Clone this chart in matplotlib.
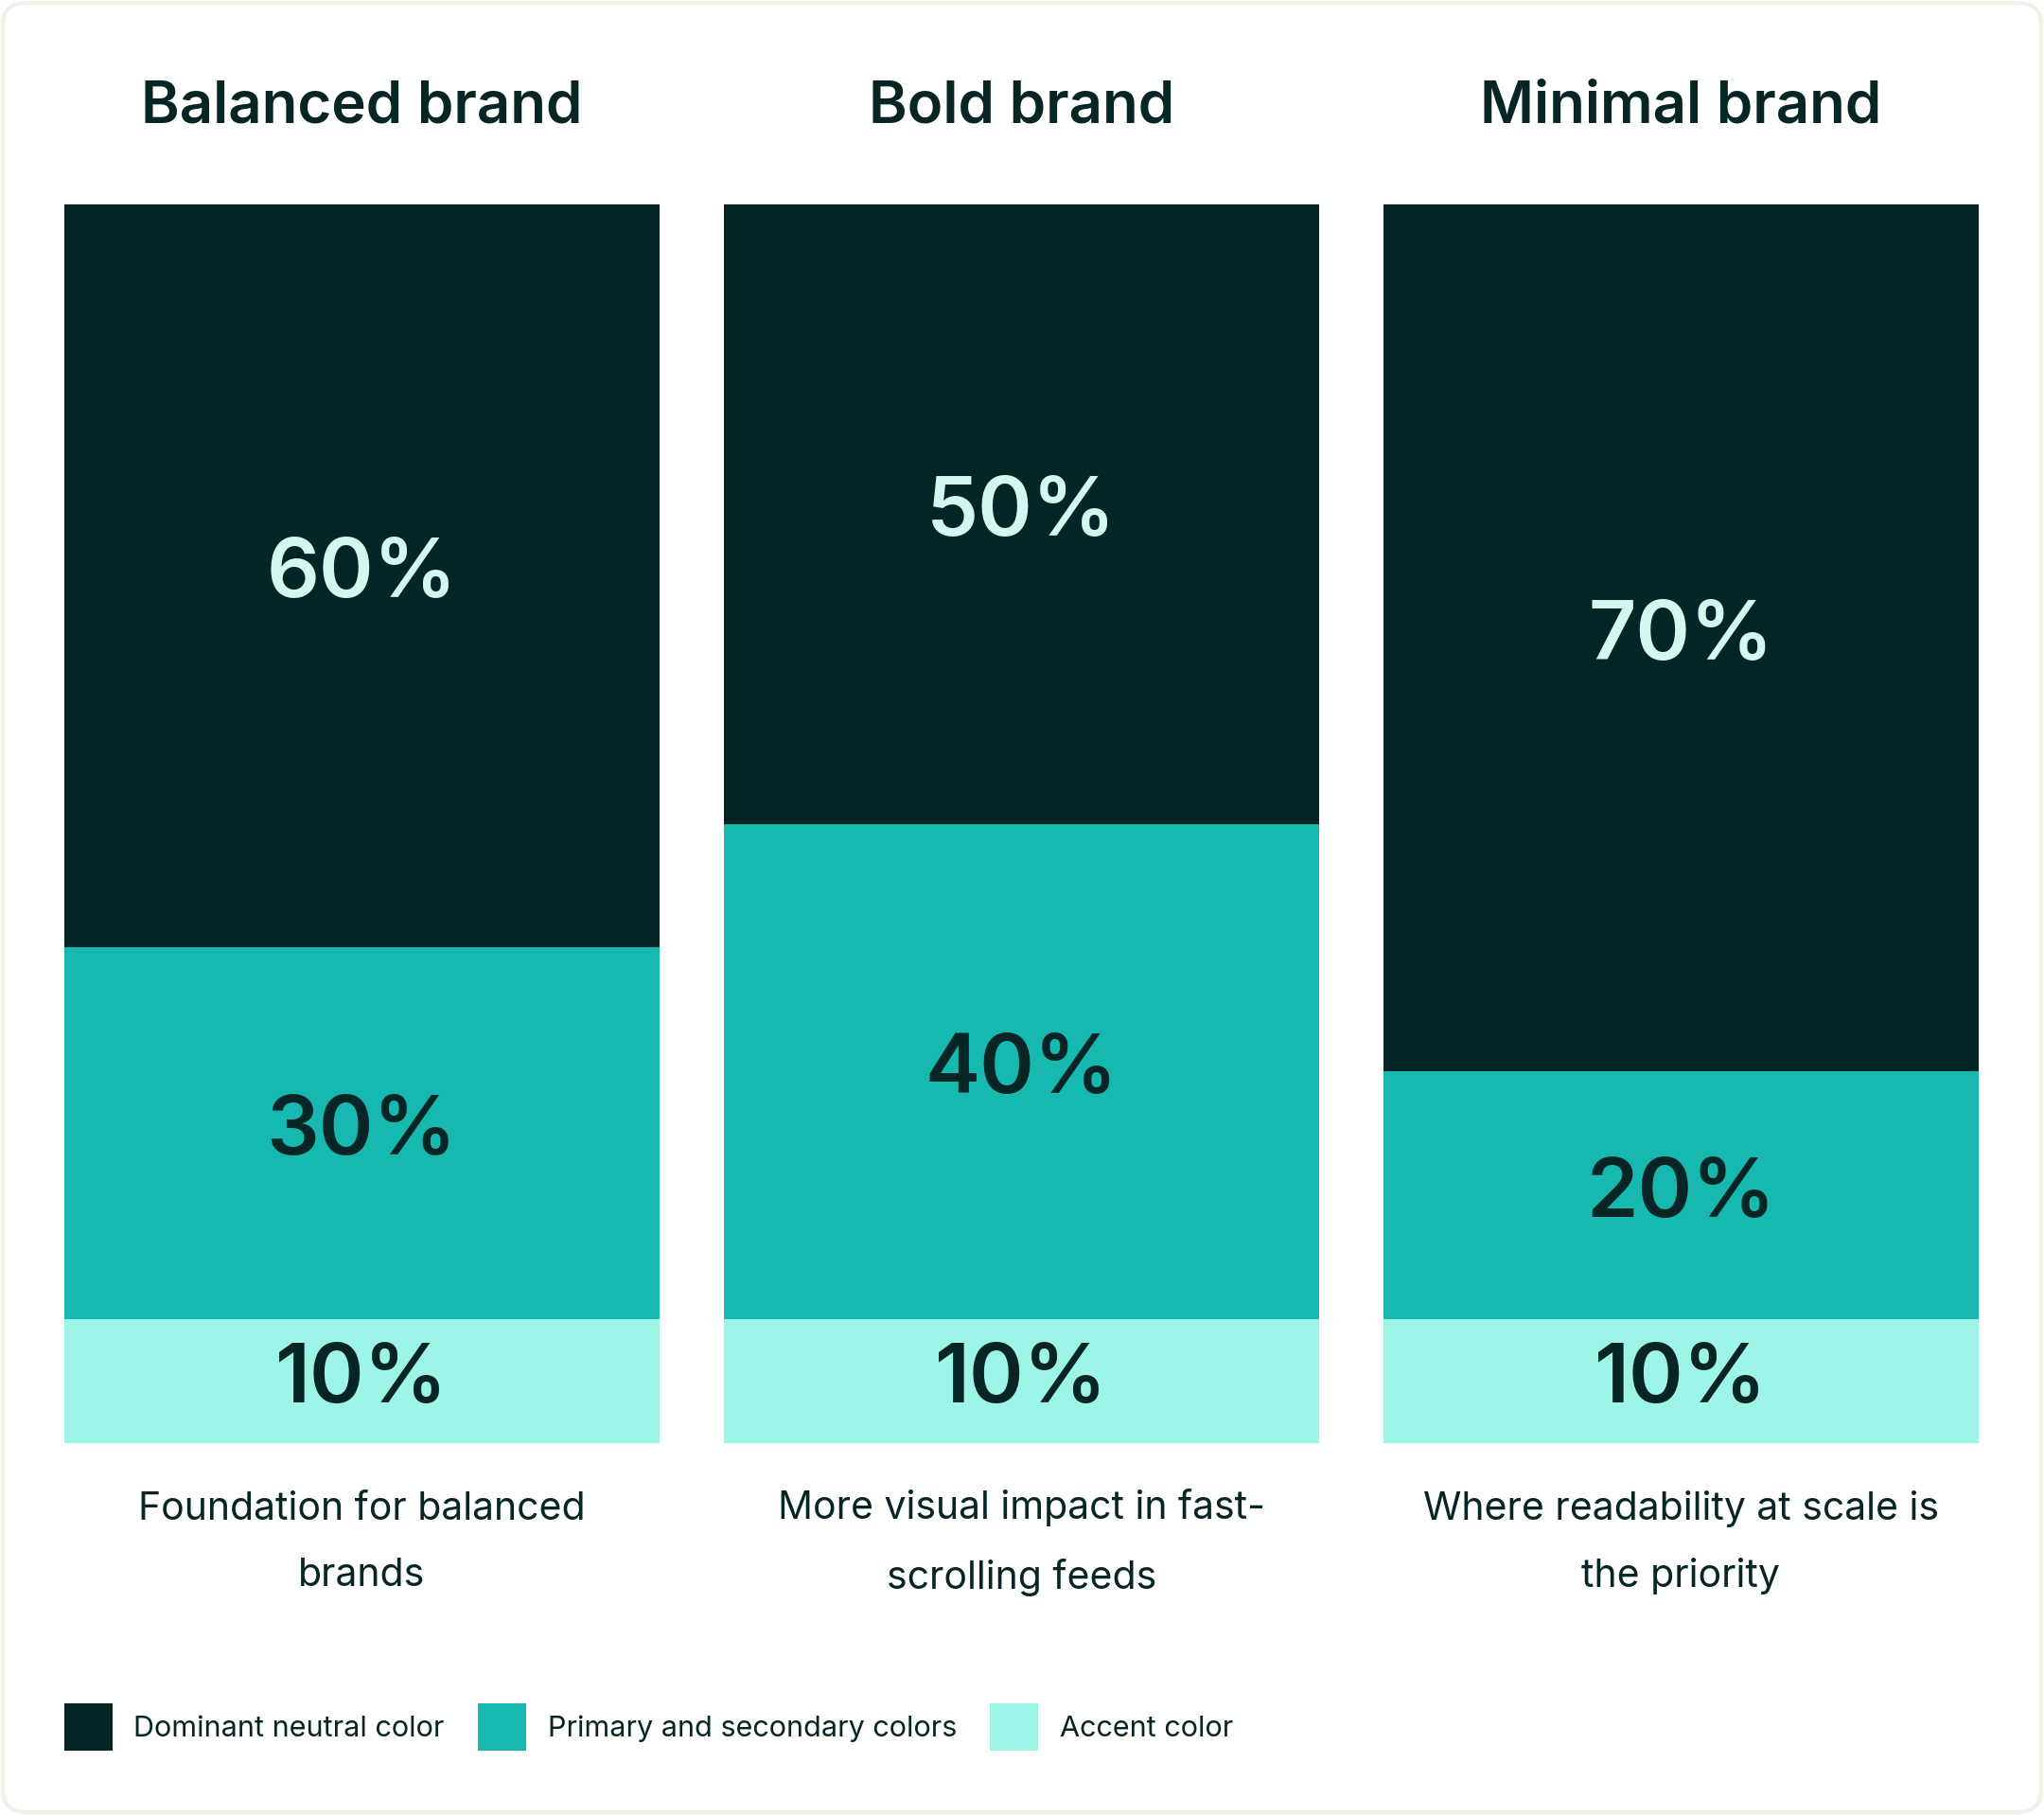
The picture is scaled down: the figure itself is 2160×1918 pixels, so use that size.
import matplotlib.pyplot as plt
import matplotlib.transforms as mtransforms
from matplotlib.patches import FancyBboxPatch

plt.rcParams['font.family'] = ['Inter', 'DejaVu Sans']

brands = ['Balanced brand', 'Bold brand', 'Minimal brand']
dominant = [60, 50, 70]
primary = [30, 40, 20]
accent = [10, 10, 10]
captions = ['Foundation for balanced\nbrands',
            'More visual impact in fast-\nscrolling feeds',
            'Where readability at scale is\nthe priority']
series_names = ['Dominant neutral color', 'Primary and secondary colors', 'Accent color']

c_dark = '#032525'
c_teal = '#16b8b0'
c_accent = '#9cf5e7'
c_light_txt = '#d2f8f0'
c_txt = '#062524'

W, H = 2160, 1918
fig = plt.figure(figsize=(W / 100, H / 100), dpi=100)
fig.patch.set_facecolor('white')

# faint rounded frame
frame = FancyBboxPatch((3 / W, 3 / H), 1 - 6 / W, 1 - 6 / H,
                       boxstyle='round,pad=0,rounding_size=0.012',
                       transform=fig.transFigure, facecolor='none',
                       edgecolor='#f1f1e8', lw=3, zorder=-1)
fig.patches.append(frame)

ax = fig.add_axes([67.5 / W, 1 - 1525 / H, (2091 - 67.5) / W, (1525 - 216) / H])
ax.set_facecolor('none')
x = list(range(len(brands)))
width = 0.9025
b_acc = ax.bar(x, accent, width, color=c_accent, label=series_names[2])
b_pri = ax.bar(x, primary, width, bottom=accent, color=c_teal, label=series_names[1])
bottom_dom = [a + p for a, p in zip(accent, primary)]
b_dom = ax.bar(x, dominant, width, bottom=bottom_dom, color=c_dark, label=series_names[0])
ax.set_xlim(-width / 2, len(brands) - 1 + width / 2)
ax.set_ylim(0, 100)
ax.axis('off')

for i in x:
    ax.text(i, accent[i] / 2, f'{accent[i]}%', ha='center', va='center',
            fontsize=63, fontweight='semibold', color=c_txt)
    ax.text(i, accent[i] + primary[i] / 2, f'{primary[i]}%', ha='center', va='center',
            fontsize=63, fontweight='semibold', color=c_txt)
    ax.text(i, bottom_dom[i] + dominant[i] / 2, f'{dominant[i]}%', ha='center', va='center',
            fontsize=63, fontweight='semibold', color=c_light_txt)

trans = mtransforms.blended_transform_factory(ax.transData, fig.transFigure)
for i in x:
    ax.text(i, 1 - 114 / H, brands[i], transform=trans, ha='center', va='center',
            fontsize=44.5, fontweight='semibold', color=c_txt)
    ax.text(i, 1 - 1630 / H, captions[i], transform=trans, ha='center', va='center',
            fontsize=29.5, color=c_txt, linespacing=2.05)

fig.legend(handles=[b_dom, b_pri, b_acc], labels=series_names, loc='center left',
           bbox_to_anchor=(67.5 / W, 1 - 1825 / H), ncol=3, frameon=False,
           fontsize=22, handlelength=1.67, handleheight=2.19, handletextpad=0.75,
           columnspacing=1.15, borderpad=0, borderaxespad=0, labelcolor=c_txt)

fig.savefig('out.png', dpi=100, facecolor='white')
